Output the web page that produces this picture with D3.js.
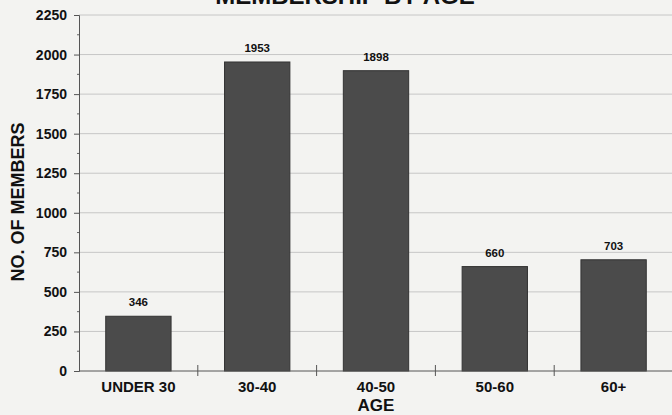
<!DOCTYPE html>
<html>
<head>
<meta charset="utf-8">
<script src="https://cdn.jsdelivr.net/npm/d3@7"></script>
<style>
  body { margin: 0; background: #f3f3f1; }
  svg { display: block; font-family: "Liberation Sans", Arial, sans-serif; }
</style>
</head>
<body>
<script>
const ageGroups = ['UNDER 30', '30-40', '40-50', '50-60', '60+'];
const members = [346, 1953, 1898, 660, 703];
const yTicks = [0, 250, 500, 750, 1000, 1250, 1500, 1750, 2000, 2250];

const w = 672, h = 415;
const margin = { top: 15, left: 79, bottom: 44 };

const svg = d3.select('body')
  .append('svg')
  .attr('width', w)
  .attr('height', h);

svg.append('rect')
  .attr('width', w)
  .attr('height', h)
  .attr('fill', '#f3f3f1');

const x = d3.scaleBand()
  .domain(ageGroups)
  .range([margin.left, w + 1])
  .paddingInner(0.45)
  .paddingOuter(0.225);

const y = d3.scaleLinear()
  .domain([0, 2250])
  .range([h - margin.bottom, margin.top]);

// gridlines
svg.selectAll('.grid')
  .data(yTicks.slice(1))
  .enter()
  .append('line')
  .attr('class', 'grid')
  .attr('x1', margin.left)
  .attr('x2', w)
  .attr('y1', d => y(d))
  .attr('y2', d => y(d))
  .attr('stroke', '#c6c6c6')
  .attr('stroke-width', 1);

// y axis with minor ticks
const yAxis = d3.axisLeft(y)
  .tickValues(yTicks)
  .tickFormat(d3.format('d'))
  .tickSize(5)
  .tickPadding(7);

const yAxisG = svg.append('g')
  .attr('transform', `translate(${margin.left},0)`)
  .call(yAxis);

yAxisG.select('.domain').attr('stroke', '#555');
yAxisG.selectAll('.tick line').attr('stroke', '#555');
yAxisG.selectAll('.tick text')
  .style('font-size', '14px')
  .style('font-weight', 'bold')
  .attr('fill', '#111');

const minorTicks = d3.range(125, 2250, 250);
svg.selectAll('.minor')
  .data(minorTicks)
  .enter()
  .append('line')
  .attr('x1', margin.left - 2)
  .attr('x2', margin.left)
  .attr('y1', d => y(d))
  .attr('y2', d => y(d))
  .attr('stroke', '#666');

// bars
svg.selectAll('.bar')
  .data(members)
  .enter()
  .append('rect')
  .attr('class', 'bar')
  .attr('x', (d, i) => x(ageGroups[i]))
  .attr('y', d => y(d))
  .attr('width', x.bandwidth())
  .attr('height', d => y(0) - y(d))
  .attr('fill', '#4b4b4b')
  .attr('stroke', '#333')
  .attr('stroke-width', 1);

// value labels
svg.selectAll('.value')
  .data(members)
  .enter()
  .append('text')
  .attr('x', (d, i) => x(ageGroups[i]) + x.bandwidth() / 2)
  .attr('y', d => y(d) - 10)
  .attr('text-anchor', 'middle')
  .style('font-size', '11.5px')
  .style('font-weight', 'bold')
  .attr('fill', '#111')
  .text(d => d);

// x axis line and crossing ticks between bands
svg.append('line')
  .attr('x1', margin.left)
  .attr('x2', w)
  .attr('y1', y(0))
  .attr('y2', y(0))
  .attr('stroke', '#555');

const step = x.step();
const boundaries = ageGroups.slice(0, -1)
  .map(g => x(g) + x.bandwidth() + (step - x.bandwidth()) / 2);

svg.selectAll('.xtick')
  .data(boundaries)
  .enter()
  .append('line')
  .attr('x1', d => d)
  .attr('x2', d => d)
  .attr('y1', y(0) - 6)
  .attr('y2', y(0) + 5)
  .attr('stroke', '#555');

svg.selectAll('.xlabel')
  .data(ageGroups)
  .enter()
  .append('text')
  .attr('x', d => x(d) + x.bandwidth() / 2)
  .attr('y', y(0) + 21)
  .attr('text-anchor', 'middle')
  .style('font-size', '15px')
  .style('font-weight', 'bold')
  .attr('fill', '#111')
  .text(d => d);

// axis titles
svg.append('text')
  .attr('x', 376)
  .attr('y', 411)
  .attr('text-anchor', 'middle')
  .style('font-size', '17px')
  .style('font-weight', 'bold')
  .attr('fill', '#111')
  .text('AGE');

svg.append('text')
  .attr('transform', `translate(24, 202) rotate(-90)`)
  .attr('text-anchor', 'middle')
  .style('font-size', '18px')
  .style('font-weight', 'bold')
  .attr('fill', '#111')
  .text('NO. OF MEMBERS');

svg.append('text')
  .attr('x', 345)
  .attr('y', 4)
  .attr('text-anchor', 'middle')
  .style('font-size', '24px')
  .style('font-weight', 'bold')
  .attr('fill', '#111')
  .text('MEMBERSHIP BY AGE');
</script>
</body>
</html>
